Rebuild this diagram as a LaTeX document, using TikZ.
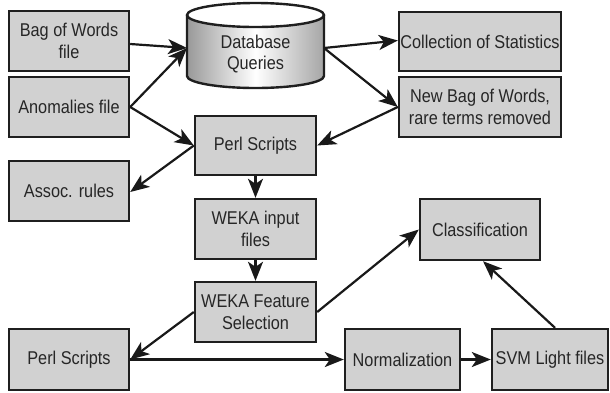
\documentclass[tikz,border=0pt]{standalone}
\usepackage{fontspec}
\setmainfont{Liberation Sans}[FakeStretch=0.88]
\usetikzlibrary{arrows.meta}
\begin{document}
\begin{tikzpicture}[x=1pt,y=-1pt,
  box/.style={draw=black!88, line width=2.4pt, fill=black!18, inner sep=0pt, align=center,
    text=black!85, font=\fontsize{18.5}{21.5}\selectfont},
  conn/.style={line width=2.2pt, black!90, -{Stealth[length=19pt,width=15pt,inset=5pt]}},
  lbl/.style={inner sep=0pt, align=center, text=black!85, font=\fontsize{18.5}{21.5}\selectfont}]
\useasboundingbox (0,0) rectangle (610,392);
% boxes
\node[box, minimum width=120pt, minimum height=60pt] (bow) at (69,41) {Bag of Words\\file};
\node[box, minimum width=120pt, minimum height=60pt] (anom) at (69,107) {Anomalies file};
\node[box, minimum width=120pt, minimum height=60pt] (assoc) at (69,191) {Assoc. rules};
\node[box, minimum width=120pt, minimum height=61pt] (perlb) at (69,359.5) {Perl Scripts};
\node[box, minimum width=121pt, minimum height=59pt] (perlt) at (255.5,145.5) {Perl Scripts};
\node[box, minimum width=121pt, minimum height=60pt] (wekai) at (255.5,229) {WEKA input\\files};
\node[box, minimum width=121pt, minimum height=60pt] (wekaf) at (255.5,312) {WEKA Feature\\Selection};
\node[box, minimum width=162pt, minimum height=59pt] (coll) at (480,41.5) {Collection of Statistics};
\node[box, minimum width=162pt, minimum height=60pt] (newbow) at (480,107) {New Bag of Words,\\rare terms removed};
\node[box, minimum width=120pt, minimum height=61pt] (class) at (480,229.5) {Classification};
\node[box, minimum width=115pt, minimum height=61pt] (norm) at (402.5,359.5) {Normalization};
\node[box, minimum width=116pt, minimum height=61pt] (svm) at (550,359.5) {SVM Light files};
% cylinder
\shade[left color=black!40, right color=black!35, middle color=white]
  (187,15) -- (187,76) arc[start angle=180, end angle=0, x radius=68.5, y radius=12]
  -- (324,15) -- cycle;
\fill[white] (255.5,15) ellipse[x radius=68.5, y radius=12];
\draw[black!88, line width=2.4pt] (187,15) -- (187,76) arc[start angle=180, end angle=0, x radius=68.5, y radius=12] -- (324,15);
\draw[black!88, line width=2.4pt] (255.5,15) ellipse[x radius=68.5, y radius=12];
\node[lbl] (db) at (255.5,54) {Database\\Queries};
\coordinate (dbL) at (187,48);
\coordinate (dbR) at (324,48);
% connectors
\draw[conn] ([yshift=-3pt]bow.east) -- (dbL);
\draw[conn] (anom.east) -- (dbL);
\draw[conn] (anom.east) -- (perlt.west);
\draw[conn] (perlt.west) -- ([yshift=-1pt]assoc.east);
\draw[conn] (dbR) -- ([yshift=1pt]coll.west);
\draw[conn] (dbR) -- (newbow.west);
\draw[conn] (newbow.west) -- (perlt.east);
\draw[conn] (perlt.south) -- (wekai.north);
\draw[conn] (wekai.south) -- (wekaf.north);
\draw[conn] (wekaf.west) -- (perlb.east);
\draw[conn] (perlb.east) -- (norm.west);
\draw[conn] (wekaf.east) -- (class.west);
\draw[conn] (norm.east) -- (svm.west);
\draw[conn] ([xshift=5pt]svm.north) -- ([xshift=3pt]class.south);
\end{tikzpicture}
\end{document}
